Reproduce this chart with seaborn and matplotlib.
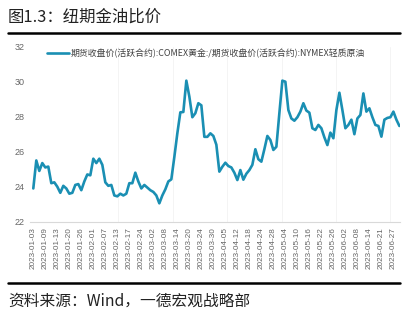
import numpy as np
import pandas as pd
import matplotlib
matplotlib.use("Agg")
import matplotlib.pyplot as plt
from matplotlib.ticker import FixedLocator
import seaborn as sns

# ---- data ----
title = "图1.3：纽期金油比价"
source = "资料来源：Wind，一德宏观战略部"
series_name = "期货收盘价(活跃合约):COMEX黄金:/期货收盘价(活跃合约):NYMEX轻质原油"
holidays = ["2023-01-16", "2023-02-20", "2023-04-07", "2023-05-29", "2023-06-19"]
dates = [d for d in pd.bdate_range("2023-01-03", "2023-06-29")
         if d.strftime("%Y-%m-%d") not in holidays]
values = [
    23.9, 25.5, 24.9, 25.35, 25.1, 25.15, 24.2, 24.25, 24.0, 23.65,
    24.05, 23.9, 23.6, 23.65, 24.1, 24.15, 23.8, 24.3, 24.7, 24.65,
    25.6, 25.35, 25.6, 25.25, 24.25, 24.05, 24.1, 23.5, 23.45, 23.6,
    23.5, 23.6, 24.2, 24.2, 24.8, 24.3, 23.9, 24.1, 23.95, 23.8,
    23.7, 23.5, 23.05, 23.5, 23.85, 24.3, 24.42, 25.7, 27.05, 28.25,
    28.27, 30.06, 29.15, 27.97, 28.2, 28.77, 28.65, 26.85, 26.85, 27.05,
    26.9, 26.4, 24.86, 25.14, 25.37, 25.18, 25.1, 24.8, 24.38, 24.95,
    24.4, 24.74, 24.95, 25.25, 26.14, 25.57, 25.43, 26.14, 26.9, 26.67,
    26.1, 26.28, 28.2, 30.06, 30.0, 28.38, 27.9, 27.77, 27.97, 28.29,
    28.77, 28.35, 28.23, 27.34, 27.24, 27.53, 27.34, 26.82, 26.38, 27.09,
    26.77, 28.38, 29.37, 28.38, 27.34, 27.53, 27.83, 27.0, 27.9, 28.1,
    29.33, 28.29, 28.48, 27.97, 27.53, 27.47, 26.86, 27.83, 27.93, 27.97,
    28.29, 27.83, 27.47,
]
yticks = [22, 24, 26, 28, 30, 32]

df = pd.DataFrame({"pos": np.arange(len(values)), "value": values,
                   "label": [d.strftime("%Y-%m-%d") for d in dates]})

# ---- style ----
sns.set_theme(style="white")
plt.rcParams["font.family"] = ["Liberation Sans", "Noto Sans CJK SC", "DejaVu Sans"]

fig = plt.figure(figsize=(4.11, 3.22), dpi=100)
ax = fig.add_axes([30 / 411, 1 - 221.7 / 322, 370 / 411, 175 / 322])

color = "#1a8fb3"
sns.lineplot(data=df, x="pos", y="value", ax=ax, color=color, linewidth=1.9,
             label=series_name)

ax.set_xlim(-1.1, len(values) - 0.8)
ax.set_ylim(22, 32)
ax.set_yticks(yticks)
ax.set_yticklabels([str(v) for v in yticks], fontsize=6.5, color="#666666")
tick_pos = df["pos"].values[::4]
ax.set_xticks(tick_pos)
ax.set_xticklabels(df["label"].values[::4], rotation=90, fontsize=5.9,
                   color="#666666", va="top")
ax.tick_params(axis="both", length=0, pad=4)
ax.set_xlabel("")
ax.set_ylabel("")

# faint vertical guide lines
ax.xaxis.set_minor_locator(FixedLocator([28.2, 46.6, 64.6, 83, 101, 119]))
ax.grid(which="minor", axis="x", color="#f2f2f2", linewidth=0.6)
ax.grid(which="major", visible=False)

for s in ["top", "right", "left"]:
    ax.spines[s].set_visible(False)
ax.spines["bottom"].set_color("#d9d9d9")
ax.spines["bottom"].set_linewidth(0.8)

leg = ax.legend(loc="center left", bbox_to_anchor=(0.046, 0.962), frameon=False,
                borderaxespad=0, borderpad=0, handlelength=2.5, handletextpad=0.1,
                prop={"family": ["Noto Sans CJK SC", "DejaVu Sans"], "size": 6.4})
for t in leg.get_texts():
    t.set_color("#404040")

# title, rules, source
fig.text(8 / 411, 1 - 17 / 322, title, fontsize=11.8, color="#222222",
         family=["Noto Sans CJK SC", "DejaVu Sans"], va="center", ha="left")
fig.add_artist(plt.Line2D([8 / 411, 400 / 411], [1 - 32.5 / 322] * 2,
                          color="black", linewidth=1.8))
fig.add_artist(plt.Line2D([8 / 411, 400 / 411], [1 - 283.3 / 322] * 2,
                          color="black", linewidth=1.8))
fig.text(8 / 411, 1 - 301 / 322, source, fontsize=11.3, color="#222222",
         family=["Noto Sans CJK SC", "DejaVu Sans"], va="center", ha="left")

fig.savefig("out.png", dpi=100, facecolor="white")
